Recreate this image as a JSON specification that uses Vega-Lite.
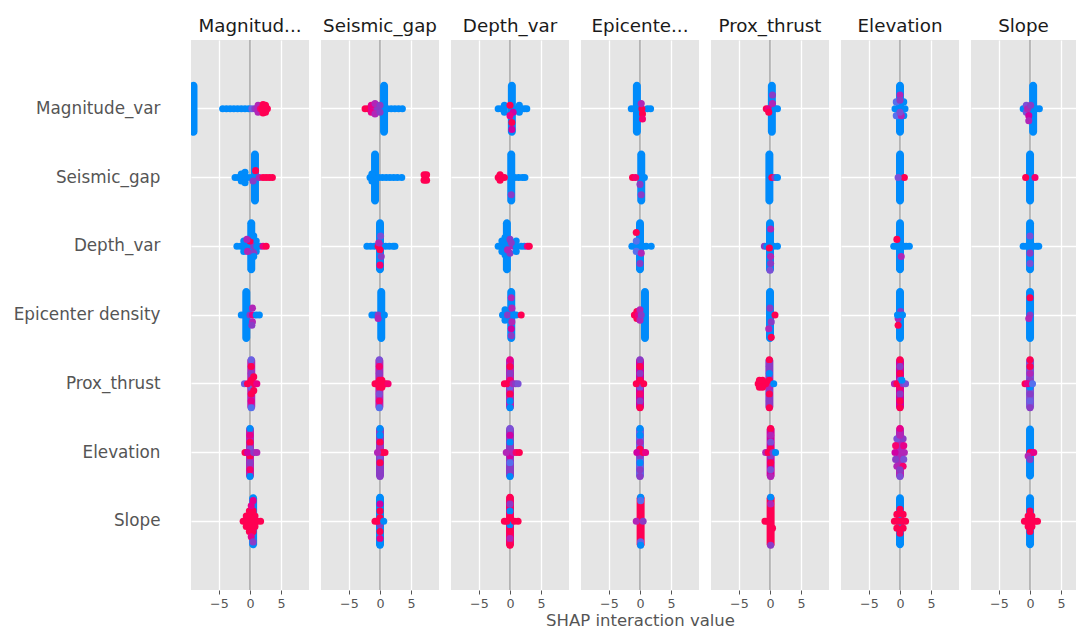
{
"$schema":"https://vega.github.io/schema/vega-lite/v6.json",
"autosize":{"type":"pad"},
"padding":{"left":13,"top":17,"right":0,"bottom":0},
"background":"white",
"spacing":12,
"bounds":"flush",
"datasets":{
"strips":[
{"c":"M","r":"M","x":-9.1,"v":0},{"c":"M","r":"S","x":0.8,"v":0},{"c":"M","r":"D","x":0.2,"v":0},{"c":"M","r":"E","x":-0.6,"v":0},{"c":"M","r":"P","x":0.2,"v":0.6},{"c":"M","r":"El","x":0,"v":0.6},{"c":"M","r":"Sl","x":0.5,"v":0},
{"c":"S","r":"M","x":0.65,"v":0},{"c":"S","r":"S","x":-0.8,"v":0},{"c":"S","r":"D","x":0,"v":0},{"c":"S","r":"E","x":0.2,"v":0},{"c":"S","r":"P","x":-0.1,"v":0.6},{"c":"S","r":"El","x":0,"v":0.5},{"c":"S","r":"Sl","x":0,"v":0},
{"c":"D","r":"M","x":0.3,"v":0},{"c":"D","r":"S","x":0.2,"v":0},{"c":"D","r":"D","x":-0.5,"v":0},{"c":"D","r":"E","x":0.2,"v":0},{"c":"D","r":"P","x":0,"v":0.6},{"c":"D","r":"El","x":0,"v":0.5},{"c":"D","r":"Sl","x":0,"v":0.9},
{"c":"E","r":"M","x":-0.5,"v":0},{"c":"E","r":"S","x":0.2,"v":0},{"c":"E","r":"D","x":0,"v":0},{"c":"E","r":"E","x":0.8,"v":0},{"c":"E","r":"P","x":0,"v":0.7},{"c":"E","r":"El","x":0,"v":0.3},{"c":"E","r":"Sl","x":0.1,"v":1},
{"c":"P","r":"M","x":0.3,"v":0},{"c":"P","r":"S","x":-0.1,"v":0},{"c":"P","r":"D","x":0,"v":0},{"c":"P","r":"E","x":0,"v":0},{"c":"P","r":"P","x":-0.1,"v":0.5},{"c":"P","r":"El","x":0.1,"v":0.7},{"c":"P","r":"Sl","x":0.1,"v":1},
{"c":"El","r":"M","x":0,"v":0},{"c":"El","r":"S","x":0,"v":0},{"c":"El","r":"D","x":0,"v":0},{"c":"El","r":"E","x":0,"v":0},{"c":"El","r":"P","x":0,"v":0.7},{"c":"El","r":"El","x":0,"v":0.6},{"c":"El","r":"Sl","x":0,"v":0},
{"c":"Sl","r":"M","x":0.5,"v":0},{"c":"Sl","r":"S","x":0,"v":0},{"c":"Sl","r":"D","x":0,"v":0},{"c":"Sl","r":"E","x":0,"v":0},{"c":"Sl","r":"P","x":0,"v":0.4},{"c":"Sl","r":"El","x":0,"v":0},{"c":"Sl","r":"Sl","x":0,"v":0}
],
"pts":[
{"c":"M","r":"M","x":-4.4,"o":0,"v":0},{"c":"M","r":"M","x":-3.8,"o":0,"v":0},{"c":"M","r":"M","x":-3.2,"o":0,"v":0},{"c":"M","r":"M","x":-2.6,"o":0,"v":0},{"c":"M","r":"M","x":-2.0,"o":0,"v":0},{"c":"M","r":"M","x":-1.4,"o":0,"v":0},{"c":"M","r":"M","x":-0.8,"o":0,"v":0},{"c":"M","r":"M","x":-0.2,"o":0,"v":0},
{"c":"M","r":"M","x":0.3,"o":0,"v":0.3},{"c":"M","r":"M","x":0.8,"o":0,"v":0.5},{"c":"M","r":"M","x":1.2,"o":0,"v":0.6},{"c":"M","r":"M","x":1.3,"o":1,"v":0.6},{"c":"M","r":"M","x":1.3,"o":-1,"v":0.6},
{"c":"M","r":"M","x":1.7,"o":0,"v":0.9},{"c":"M","r":"M","x":2.0,"o":0,"v":1},{"c":"M","r":"M","x":2.4,"o":0,"v":1},{"c":"M","r":"M","x":2.8,"o":0,"v":1},{"c":"M","r":"M","x":2.1,"o":1.2,"v":1},{"c":"M","r":"M","x":2.1,"o":-1.2,"v":1},{"c":"M","r":"M","x":2.5,"o":1,"v":1},{"c":"M","r":"M","x":2.5,"o":-1,"v":1},
{"c":"M","r":"S","x":-2.4,"o":0,"v":0},{"c":"M","r":"S","x":-1.9,"o":0,"v":0},{"c":"M","r":"S","x":-1.4,"o":0,"v":0},{"c":"M","r":"S","x":-0.9,"o":0,"v":0},{"c":"M","r":"S","x":-0.4,"o":0,"v":0},{"c":"M","r":"S","x":0.2,"o":0,"v":0},
{"c":"M","r":"S","x":-1.4,"o":1,"v":0},{"c":"M","r":"S","x":-1.4,"o":-1,"v":0},{"c":"M","r":"S","x":-0.8,"o":1.5,"v":0},{"c":"M","r":"S","x":-0.8,"o":-1.5,"v":0},{"c":"M","r":"S","x":0.5,"o":1,"v":0.5},{"c":"M","r":"S","x":0.9,"o":-2,"v":1},
{"c":"M","r":"S","x":1.5,"o":0,"v":0.6},{"c":"M","r":"S","x":2.1,"o":0,"v":1},{"c":"M","r":"S","x":2.6,"o":0,"v":1},{"c":"M","r":"S","x":3.1,"o":0,"v":1},{"c":"M","r":"S","x":3.6,"o":0,"v":1},
{"c":"M","r":"D","x":-2.1,"o":0,"v":0},{"c":"M","r":"D","x":-1.5,"o":0,"v":0},{"c":"M","r":"D","x":-0.9,"o":0,"v":0},{"c":"M","r":"D","x":-0.4,"o":0,"v":0},{"c":"M","r":"D","x":-1.0,"o":1.5,"v":0},{"c":"M","r":"D","x":-1.0,"o":-1.5,"v":0},
{"c":"M","r":"D","x":1.0,"o":1.5,"v":0},{"c":"M","r":"D","x":1.0,"o":-1.5,"v":0},{"c":"M","r":"D","x":0.6,"o":0,"v":0.5},{"c":"M","r":"D","x":1.1,"o":0,"v":0},{"c":"M","r":"D","x":1.6,"o":0,"v":0},{"c":"M","r":"D","x":2.1,"o":0,"v":0.8},{"c":"M","r":"D","x":2.6,"o":0,"v":1},
{"c":"M","r":"D","x":-0.4,"o":1.5,"v":0.6},{"c":"M","r":"D","x":0,"o":-1.5,"v":1},{"c":"M","r":"D","x":-0.5,"o":-2,"v":0.6},{"c":"M","r":"D","x":0.6,"o":2,"v":0.5},{"c":"M","r":"D","x":0.6,"o":3,"v":0},{"c":"M","r":"D","x":0.6,"o":-3,"v":0},
{"c":"M","r":"E","x":-1.4,"o":0,"v":0},{"c":"M","r":"E","x":-0.9,"o":0,"v":0},{"c":"M","r":"E","x":-0.3,"o":-1,"v":0},{"c":"M","r":"E","x":0,"o":0,"v":0.5},{"c":"M","r":"E","x":0.4,"o":0,"v":0.8},{"c":"M","r":"E","x":0.4,"o":2,"v":0.6},{"c":"M","r":"E","x":0.4,"o":-2,"v":0.6},{"c":"M","r":"E","x":0.3,"o":3,"v":0.5},{"c":"M","r":"E","x":1.0,"o":0,"v":0},{"c":"M","r":"E","x":1.5,"o":0,"v":0},
{"c":"M","r":"P","x":0.2,"o":-7,"v":0.3},{"c":"M","r":"P","x":0.2,"o":-5,"v":1},{"c":"M","r":"P","x":0.2,"o":-3,"v":0.5},{"c":"M","r":"P","x":0.2,"o":-1,"v":1},{"c":"M","r":"P","x":0.2,"o":1,"v":0.3},{"c":"M","r":"P","x":0.2,"o":3,"v":1},{"c":"M","r":"P","x":0.2,"o":5,"v":0.8},{"c":"M","r":"P","x":0.2,"o":7,"v":0.2},
{"c":"M","r":"P","x":-0.9,"o":0,"v":0.3},{"c":"M","r":"P","x":-0.4,"o":0,"v":1},{"c":"M","r":"P","x":0.7,"o":0,"v":1},{"c":"M","r":"P","x":1.1,"o":0,"v":0.8},{"c":"M","r":"P","x":0.6,"o":2,"v":1},{"c":"M","r":"P","x":0.6,"o":-2,"v":1},
{"c":"M","r":"El","x":0,"o":-7,"v":0},{"c":"M","r":"El","x":0,"o":-5,"v":0.8},{"c":"M","r":"El","x":0,"o":-3,"v":1},{"c":"M","r":"El","x":0,"o":-1,"v":0.4},{"c":"M","r":"El","x":0,"o":1,"v":1},{"c":"M","r":"El","x":0,"o":3,"v":0.5},{"c":"M","r":"El","x":0,"o":5,"v":0.9},{"c":"M","r":"El","x":0,"o":7,"v":0},
{"c":"M","r":"El","x":-0.8,"o":0,"v":1},{"c":"M","r":"El","x":-0.4,"o":0,"v":0.7},{"c":"M","r":"El","x":0.6,"o":0,"v":0.5},{"c":"M","r":"El","x":1.1,"o":0,"v":0.6},
{"c":"M","r":"Sl","x":-1.1,"o":0,"v":1},{"c":"M","r":"Sl","x":-0.6,"o":0,"v":1},{"c":"M","r":"Sl","x":0,"o":0,"v":1},{"c":"M","r":"Sl","x":0.6,"o":0,"v":1},{"c":"M","r":"Sl","x":1.2,"o":0,"v":1},{"c":"M","r":"Sl","x":1.7,"o":0,"v":1},
{"c":"M","r":"Sl","x":-0.6,"o":1.5,"v":1},{"c":"M","r":"Sl","x":-0.6,"o":-1.5,"v":1},{"c":"M","r":"Sl","x":0.1,"o":1.5,"v":1},{"c":"M","r":"Sl","x":0.1,"o":-1.5,"v":1},{"c":"M","r":"Sl","x":0.8,"o":1.5,"v":1},{"c":"M","r":"Sl","x":0.8,"o":-1.5,"v":1},
{"c":"M","r":"Sl","x":-0.1,"o":3,"v":1},{"c":"M","r":"Sl","x":-0.1,"o":-3,"v":1},{"c":"M","r":"Sl","x":0.5,"o":3,"v":1},{"c":"M","r":"Sl","x":0.5,"o":-3,"v":1},{"c":"M","r":"Sl","x":0.2,"o":4.5,"v":0.8},{"c":"M","r":"Sl","x":0.2,"o":-4.5,"v":0.8},{"c":"M","r":"Sl","x":0.5,"o":-6,"v":0.8},{"c":"M","r":"Sl","x":0.5,"o":6,"v":0.5},

{"c":"S","r":"M","x":-2.4,"o":0,"v":1},{"c":"S","r":"M","x":-1.9,"o":0,"v":1},{"c":"S","r":"M","x":-1.4,"o":0,"v":0.8},{"c":"S","r":"M","x":-0.9,"o":0,"v":0.6},{"c":"S","r":"M","x":-0.4,"o":0,"v":0.5},
{"c":"S","r":"M","x":-1.4,"o":1,"v":0.8},{"c":"S","r":"M","x":-1.4,"o":-1,"v":0.8},{"c":"S","r":"M","x":-0.8,"o":1.5,"v":0.6},{"c":"S","r":"M","x":-0.8,"o":-1.5,"v":0.6},{"c":"S","r":"M","x":0,"o":1,"v":0.5},{"c":"S","r":"M","x":0,"o":-1,"v":0.5},
{"c":"S","r":"M","x":1.2,"o":0,"v":0},{"c":"S","r":"M","x":1.8,"o":0,"v":0},{"c":"S","r":"M","x":2.4,"o":0,"v":0},{"c":"S","r":"M","x":3.0,"o":0,"v":0},{"c":"S","r":"M","x":3.6,"o":0,"v":0},
{"c":"S","r":"S","x":-1.6,"o":0,"v":0},{"c":"S","r":"S","x":-0.2,"o":0,"v":0},{"c":"S","r":"S","x":0.4,"o":0,"v":0},{"c":"S","r":"S","x":1.0,"o":0,"v":0},{"c":"S","r":"S","x":1.6,"o":0,"v":0},{"c":"S","r":"S","x":2.2,"o":0,"v":0},{"c":"S","r":"S","x":2.8,"o":0,"v":0},{"c":"S","r":"S","x":3.5,"o":0,"v":0},
{"c":"S","r":"S","x":-1.3,"o":1,"v":0},{"c":"S","r":"S","x":-1.3,"o":-1,"v":0},{"c":"S","r":"S","x":7.3,"o":0,"v":1},{"c":"S","r":"S","x":7.1,"o":0.8,"v":1},{"c":"S","r":"S","x":7.5,"o":-0.8,"v":1},{"c":"S","r":"S","x":7.1,"o":-0.8,"v":1},{"c":"S","r":"S","x":7.5,"o":0.8,"v":1},
{"c":"S","r":"D","x":-2.1,"o":0,"v":0},{"c":"S","r":"D","x":-1.5,"o":0,"v":0},{"c":"S","r":"D","x":-0.9,"o":0,"v":0},{"c":"S","r":"D","x":-0.3,"o":0,"v":1},{"c":"S","r":"D","x":0.3,"o":0,"v":0.6},{"c":"S","r":"D","x":0.9,"o":0,"v":0},{"c":"S","r":"D","x":1.5,"o":0,"v":0},{"c":"S","r":"D","x":2.1,"o":0,"v":0},{"c":"S","r":"D","x":2.4,"o":0,"v":0},
{"c":"S","r":"D","x":0,"o":1,"v":1},{"c":"S","r":"D","x":0,"o":5.5,"v":0.9},{"c":"S","r":"D","x":-0.2,"o":-1,"v":0.6},{"c":"S","r":"D","x":0.2,"o":3,"v":0.5},{"c":"S","r":"D","x":0.1,"o":-3,"v":0.4},
{"c":"S","r":"E","x":-1.3,"o":0,"v":0},{"c":"S","r":"E","x":-0.8,"o":0,"v":0},{"c":"S","r":"E","x":-0.3,"o":0,"v":0.5},{"c":"S","r":"E","x":-0.3,"o":1,"v":0.6},{"c":"S","r":"E","x":0.7,"o":0,"v":0},
{"c":"S","r":"P","x":-0.1,"o":-7,"v":0.4},{"c":"S","r":"P","x":-0.1,"o":-5,"v":0.9},{"c":"S","r":"P","x":-0.1,"o":-3,"v":0.5},{"c":"S","r":"P","x":-0.1,"o":-1,"v":1},{"c":"S","r":"P","x":-0.1,"o":1,"v":1},{"c":"S","r":"P","x":-0.1,"o":3,"v":0.4},{"c":"S","r":"P","x":-0.1,"o":5,"v":0.9},{"c":"S","r":"P","x":-0.1,"o":7,"v":0.2},
{"c":"S","r":"P","x":-0.8,"o":0,"v":1},{"c":"S","r":"P","x":-0.4,"o":0,"v":1},{"c":"S","r":"P","x":0.4,"o":0,"v":1},{"c":"S","r":"P","x":0.9,"o":0,"v":1},{"c":"S","r":"P","x":1.3,"o":0,"v":0.9},{"c":"S","r":"P","x":0.3,"o":1,"v":1},{"c":"S","r":"P","x":0.3,"o":-1,"v":1},
{"c":"S","r":"El","x":0,"o":-7,"v":0},{"c":"S","r":"El","x":0,"o":-5,"v":0},{"c":"S","r":"El","x":0,"o":-3,"v":1},{"c":"S","r":"El","x":0,"o":-1,"v":0.6},{"c":"S","r":"El","x":0,"o":1,"v":0.4},{"c":"S","r":"El","x":0,"o":3,"v":1},{"c":"S","r":"El","x":0,"o":5,"v":0.5},{"c":"S","r":"El","x":0,"o":7,"v":0.5},
{"c":"S","r":"El","x":0.8,"o":0,"v":1},{"c":"S","r":"El","x":0.4,"o":0,"v":1},{"c":"S","r":"El","x":-0.4,"o":0,"v":0.6},
{"c":"S","r":"Sl","x":0,"o":-7,"v":0},{"c":"S","r":"Sl","x":0,"o":-5,"v":0.7},{"c":"S","r":"Sl","x":0,"o":-3,"v":1},{"c":"S","r":"Sl","x":0,"o":-1,"v":1},{"c":"S","r":"Sl","x":0,"o":1,"v":0.5},{"c":"S","r":"Sl","x":0,"o":3,"v":1},{"c":"S","r":"Sl","x":0,"o":5,"v":0.8},{"c":"S","r":"Sl","x":0,"o":7,"v":0},
{"c":"S","r":"Sl","x":-0.8,"o":0,"v":1},{"c":"S","r":"Sl","x":-0.4,"o":0,"v":1},{"c":"S","r":"Sl","x":0.6,"o":0,"v":0},

{"c":"D","r":"M","x":-1.9,"o":0,"v":0},{"c":"D","r":"M","x":-1.4,"o":0,"v":0},{"c":"D","r":"M","x":-0.9,"o":0,"v":0},{"c":"D","r":"M","x":1.1,"o":0,"v":0},{"c":"D","r":"M","x":1.7,"o":0,"v":0},{"c":"D","r":"M","x":2.3,"o":0,"v":0},{"c":"D","r":"M","x":2.7,"o":0,"v":0},
{"c":"D","r":"M","x":-0.9,"o":1,"v":0},{"c":"D","r":"M","x":-0.9,"o":-1,"v":0},{"c":"D","r":"M","x":1.5,"o":1,"v":0},{"c":"D","r":"M","x":1.5,"o":-1,"v":0},{"c":"D","r":"M","x":0,"o":-1,"v":1},{"c":"D","r":"M","x":0.5,"o":1,"v":0.7},{"c":"D","r":"M","x":0,"o":2,"v":0.8},{"c":"D","r":"M","x":0.3,"o":4,"v":1},{"c":"D","r":"M","x":0.3,"o":6,"v":0.7},
{"c":"D","r":"S","x":-1.9,"o":0,"v":1},{"c":"D","r":"S","x":-1.4,"o":0,"v":1},{"c":"D","r":"S","x":-0.9,"o":0,"v":1},{"c":"D","r":"S","x":-1.6,"o":0.8,"v":1},{"c":"D","r":"S","x":-1.6,"o":-0.8,"v":1},
{"c":"D","r":"S","x":0.8,"o":0,"v":0},{"c":"D","r":"S","x":1.4,"o":0,"v":0},{"c":"D","r":"S","x":2.0,"o":0,"v":0},{"c":"D","r":"S","x":2.4,"o":0,"v":0},{"c":"D","r":"S","x":0.2,"o":5,"v":0.5},
{"c":"D","r":"D","x":-1.9,"o":0,"v":0},{"c":"D","r":"D","x":-1.3,"o":0,"v":0},{"c":"D","r":"D","x":-1.3,"o":1.5,"v":0},{"c":"D","r":"D","x":-1.3,"o":-1.5,"v":0},{"c":"D","r":"D","x":-0.8,"o":2.5,"v":0},{"c":"D","r":"D","x":-0.8,"o":-2.5,"v":0},
{"c":"D","r":"D","x":0,"o":2,"v":0.5},{"c":"D","r":"D","x":0,"o":-2,"v":0.5},{"c":"D","r":"D","x":0.5,"o":0,"v":0.6},{"c":"D","r":"D","x":1.0,"o":0,"v":0},{"c":"D","r":"D","x":1.0,"o":1.5,"v":0},{"c":"D","r":"D","x":1.0,"o":-1.5,"v":0},
{"c":"D","r":"D","x":1.8,"o":0,"v":0},{"c":"D","r":"D","x":2.3,"o":0,"v":0},{"c":"D","r":"D","x":2.8,"o":0,"v":0.8},{"c":"D","r":"D","x":3.1,"o":0,"v":1},{"c":"D","r":"D","x":-0.4,"o":1,"v":0.6},{"c":"D","r":"D","x":0.2,"o":-1,"v":0.5},
{"c":"D","r":"E","x":-1.2,"o":0,"v":0},{"c":"D","r":"E","x":-0.8,"o":1.5,"v":0},{"c":"D","r":"E","x":-0.8,"o":-1.5,"v":0},{"c":"D","r":"E","x":-0.4,"o":0,"v":0.5},{"c":"D","r":"E","x":0.3,"o":2,"v":0.6},{"c":"D","r":"E","x":0.3,"o":-2,"v":0.6},
{"c":"D","r":"E","x":0.6,"o":0,"v":0},{"c":"D","r":"E","x":1.0,"o":0,"v":0},{"c":"D","r":"E","x":1.8,"o":0,"v":1},{"c":"D","r":"E","x":0.2,"o":-5,"v":0.6},{"c":"D","r":"E","x":0.2,"o":4,"v":0.7},{"c":"D","r":"E","x":0.2,"o":6,"v":0.5},
{"c":"D","r":"P","x":0,"o":-7,"v":0.8},{"c":"D","r":"P","x":0,"o":-5,"v":1},{"c":"D","r":"P","x":0,"o":-3,"v":0.5},{"c":"D","r":"P","x":0,"o":-1,"v":0.9},{"c":"D","r":"P","x":0,"o":1,"v":0.3},{"c":"D","r":"P","x":0,"o":3,"v":1},{"c":"D","r":"P","x":0,"o":5,"v":0},{"c":"D","r":"P","x":0,"o":7,"v":0},
{"c":"D","r":"P","x":-0.9,"o":0,"v":1},{"c":"D","r":"P","x":-0.5,"o":0,"v":1},{"c":"D","r":"P","x":0.5,"o":0,"v":0.6},{"c":"D","r":"P","x":0.9,"o":0,"v":0.5},{"c":"D","r":"P","x":1.3,"o":0,"v":0.4},
{"c":"D","r":"El","x":0,"o":-7,"v":0.4},{"c":"D","r":"El","x":0,"o":-5,"v":0.7},{"c":"D","r":"El","x":0,"o":-3,"v":0},{"c":"D","r":"El","x":0,"o":-1,"v":0.5},{"c":"D","r":"El","x":0,"o":1,"v":0.7},{"c":"D","r":"El","x":0,"o":3,"v":0.2},{"c":"D","r":"El","x":0,"o":5,"v":0.5},{"c":"D","r":"El","x":0,"o":7,"v":0},
{"c":"D","r":"El","x":-0.6,"o":0,"v":0.6},{"c":"D","r":"El","x":0.5,"o":0,"v":0.6},{"c":"D","r":"El","x":1.0,"o":0,"v":0.9},{"c":"D","r":"El","x":1.5,"o":0,"v":1},
{"c":"D","r":"Sl","x":0,"o":-7,"v":1},{"c":"D","r":"Sl","x":0,"o":-5,"v":0.5},{"c":"D","r":"Sl","x":0,"o":-3,"v":0},{"c":"D","r":"Sl","x":0,"o":-1,"v":1},{"c":"D","r":"Sl","x":0,"o":1,"v":0},{"c":"D","r":"Sl","x":0,"o":3,"v":1},{"c":"D","r":"Sl","x":0,"o":5,"v":0.6},{"c":"D","r":"Sl","x":0,"o":7,"v":1},
{"c":"D","r":"Sl","x":-0.9,"o":0,"v":1},{"c":"D","r":"Sl","x":-0.5,"o":0,"v":1},{"c":"D","r":"Sl","x":0.7,"o":0,"v":1},{"c":"D","r":"Sl","x":1.3,"o":0,"v":1},

{"c":"E","r":"M","x":-1.4,"o":0,"v":0},{"c":"E","r":"M","x":-0.9,"o":0,"v":0},{"c":"E","r":"M","x":1.2,"o":0,"v":0},{"c":"E","r":"M","x":1.7,"o":0,"v":0},{"c":"E","r":"M","x":0.3,"o":0,"v":1},{"c":"E","r":"M","x":0.4,"o":1.5,"v":1},{"c":"E","r":"M","x":0.4,"o":3,"v":0.9},{"c":"E","r":"M","x":0.2,"o":-1.5,"v":0.6},
{"c":"E","r":"S","x":-1.2,"o":0,"v":1},{"c":"E","r":"S","x":-0.7,"o":0,"v":0.9},{"c":"E","r":"S","x":0,"o":2,"v":0.5},{"c":"E","r":"S","x":0.2,"o":5,"v":0.5},{"c":"E","r":"S","x":0.7,"o":0,"v":0},
{"c":"E","r":"D","x":-1.3,"o":0,"v":0},{"c":"E","r":"D","x":-0.8,"o":0,"v":0},{"c":"E","r":"D","x":-0.6,"o":1.5,"v":0.2},{"c":"E","r":"D","x":-0.6,"o":-1.5,"v":0.2},{"c":"E","r":"D","x":0.5,"o":0,"v":0},{"c":"E","r":"D","x":1.0,"o":0,"v":0},{"c":"E","r":"D","x":1.8,"o":0,"v":0},
{"c":"E","r":"D","x":-0.6,"o":-4,"v":1},{"c":"E","r":"D","x":0.2,"o":2,"v":0.6},{"c":"E","r":"D","x":0,"o":5,"v":0.5},
{"c":"E","r":"E","x":-0.9,"o":0,"v":1},{"c":"E","r":"E","x":-0.5,"o":1,"v":1},{"c":"E","r":"E","x":-0.5,"o":-1,"v":1},{"c":"E","r":"E","x":-0.3,"o":0,"v":0.8},{"c":"E","r":"E","x":0,"o":1.5,"v":0.6},{"c":"E","r":"E","x":0,"o":-1.5,"v":0.6},{"c":"E","r":"E","x":0.2,"o":0,"v":0.5},
{"c":"E","r":"P","x":0,"o":-7,"v":0.5},{"c":"E","r":"P","x":0,"o":-5,"v":1},{"c":"E","r":"P","x":0,"o":-3,"v":0.5},{"c":"E","r":"P","x":0,"o":-1,"v":1},{"c":"E","r":"P","x":0,"o":1,"v":0.4},{"c":"E","r":"P","x":0,"o":3,"v":0.9},{"c":"E","r":"P","x":0,"o":5,"v":0.5},{"c":"E","r":"P","x":0,"o":7,"v":1},
{"c":"E","r":"P","x":-0.6,"o":0,"v":1},{"c":"E","r":"P","x":0.6,"o":0,"v":1},
{"c":"E","r":"El","x":0,"o":-7,"v":0},{"c":"E","r":"El","x":0,"o":-5,"v":0},{"c":"E","r":"El","x":0,"o":-3,"v":0.6},{"c":"E","r":"El","x":0,"o":-1,"v":1},{"c":"E","r":"El","x":0,"o":1,"v":0.5},{"c":"E","r":"El","x":0,"o":3,"v":0},{"c":"E","r":"El","x":0,"o":5,"v":0.5},{"c":"E","r":"El","x":0,"o":7,"v":0.5},
{"c":"E","r":"El","x":-0.5,"o":0,"v":0.7},{"c":"E","r":"El","x":0.5,"o":0,"v":1},{"c":"E","r":"El","x":0.9,"o":0,"v":0.8},
{"c":"E","r":"Sl","x":0.1,"o":-7,"v":0},{"c":"E","r":"Sl","x":0.1,"o":-6,"v":0.2},{"c":"E","r":"Sl","x":0.1,"o":6,"v":0.3},{"c":"E","r":"Sl","x":0.1,"o":7,"v":0},{"c":"E","r":"Sl","x":-0.6,"o":0,"v":0.6},{"c":"E","r":"Sl","x":0.5,"o":0,"v":0.5},

{"c":"P","r":"M","x":-0.6,"o":0,"v":1},{"c":"P","r":"M","x":-0.2,"o":0,"v":0.8},{"c":"P","r":"M","x":0.8,"o":0,"v":0},{"c":"P","r":"M","x":1.2,"o":0,"v":0},{"c":"P","r":"M","x":-0.2,"o":1,"v":1},{"c":"P","r":"M","x":0.4,"o":-4,"v":0.5},{"c":"P","r":"M","x":0.4,"o":-1.5,"v":0.6},
{"c":"P","r":"S","x":0.3,"o":0,"v":1},{"c":"P","r":"S","x":0.8,"o":0,"v":0.5},{"c":"P","r":"S","x":1.2,"o":0,"v":0},
{"c":"P","r":"D","x":-0.9,"o":0,"v":0.5},{"c":"P","r":"D","x":-0.5,"o":0,"v":0},{"c":"P","r":"D","x":0.6,"o":0,"v":0},{"c":"P","r":"D","x":1.2,"o":0,"v":0},{"c":"P","r":"D","x":-0.1,"o":0.5,"v":1},{"c":"P","r":"D","x":0.1,"o":-5,"v":0.6},{"c":"P","r":"D","x":0.1,"o":3,"v":0.6},{"c":"P","r":"D","x":0.1,"o":5,"v":0.5},{"c":"P","r":"D","x":0,"o":7,"v":0.4},
{"c":"P","r":"E","x":0.8,"o":0,"v":1},{"c":"P","r":"E","x":0.2,"o":6.5,"v":1},{"c":"P","r":"E","x":0,"o":-2,"v":0.5},{"c":"P","r":"E","x":0.2,"o":2,"v":0.5},{"c":"P","r":"E","x":-0.2,"o":4,"v":0.6},
{"c":"P","r":"P","x":-0.1,"o":-7,"v":1},{"c":"P","r":"P","x":-0.1,"o":-5,"v":0.5},{"c":"P","r":"P","x":-0.1,"o":-3,"v":0},{"c":"P","r":"P","x":-0.1,"o":-1,"v":1},{"c":"P","r":"P","x":-0.1,"o":1,"v":0.6},{"c":"P","r":"P","x":-0.1,"o":3,"v":1},{"c":"P","r":"P","x":-0.1,"o":5,"v":0.5},{"c":"P","r":"P","x":-0.1,"o":7,"v":1},
{"c":"P","r":"P","x":-1.9,"o":0,"v":1},{"c":"P","r":"P","x":-1.5,"o":0,"v":1},{"c":"P","r":"P","x":-1.1,"o":0,"v":1},{"c":"P","r":"P","x":-0.7,"o":0,"v":1},{"c":"P","r":"P","x":-1.7,"o":1,"v":1},{"c":"P","r":"P","x":-1.7,"o":-1,"v":1},{"c":"P","r":"P","x":-1.2,"o":1,"v":1},{"c":"P","r":"P","x":-1.2,"o":-1,"v":1},{"c":"P","r":"P","x":0.6,"o":0,"v":0},
{"c":"P","r":"El","x":0.1,"o":-7,"v":1},{"c":"P","r":"El","x":0.1,"o":-5,"v":0.6},{"c":"P","r":"El","x":0.1,"o":-3,"v":0.4},{"c":"P","r":"El","x":0.1,"o":-1,"v":1},{"c":"P","r":"El","x":0.1,"o":1,"v":0.5},{"c":"P","r":"El","x":0.1,"o":3,"v":1},{"c":"P","r":"El","x":0.1,"o":5,"v":0.4},{"c":"P","r":"El","x":0.1,"o":7,"v":0.6},
{"c":"P","r":"El","x":-0.7,"o":0,"v":0.6},{"c":"P","r":"El","x":-0.3,"o":0,"v":1},{"c":"P","r":"El","x":0.5,"o":0,"v":0.5},{"c":"P","r":"El","x":0.9,"o":0,"v":0},
{"c":"P","r":"Sl","x":0.1,"o":-7,"v":0},{"c":"P","r":"Sl","x":0.1,"o":-5,"v":0.6},{"c":"P","r":"Sl","x":0.1,"o":7,"v":0.5},{"c":"P","r":"Sl","x":-0.8,"o":0,"v":1},{"c":"P","r":"Sl","x":-0.4,"o":0,"v":1},{"c":"P","r":"Sl","x":0.4,"o":2,"v":1},

{"c":"El","r":"M","x":-0.8,"o":0,"v":0},{"c":"El","r":"M","x":-0.6,"o":2,"v":0.2},{"c":"El","r":"M","x":-0.6,"o":-2,"v":0.2},{"c":"El","r":"M","x":0.6,"o":2,"v":0},{"c":"El","r":"M","x":0.6,"o":-2,"v":0},{"c":"El","r":"M","x":0.8,"o":0,"v":0},
{"c":"El","r":"M","x":0,"o":-4,"v":0.6},{"c":"El","r":"M","x":0,"o":-2.5,"v":0.5},{"c":"El","r":"M","x":0.2,"o":2,"v":0.6},{"c":"El","r":"M","x":0,"o":1,"v":0.4},
{"c":"El","r":"S","x":0.7,"o":0,"v":1},{"c":"El","r":"S","x":-0.3,"o":0,"v":0.4},
{"c":"El","r":"D","x":-1.0,"o":0,"v":0},{"c":"El","r":"D","x":-0.6,"o":0,"v":0},{"c":"El","r":"D","x":0.6,"o":0,"v":0},{"c":"El","r":"D","x":1.0,"o":0,"v":0},{"c":"El","r":"D","x":1.5,"o":0,"v":0},{"c":"El","r":"D","x":-0.5,"o":-2,"v":1},{"c":"El","r":"D","x":0.2,"o":3,"v":0.6},
{"c":"El","r":"E","x":-0.3,"o":1,"v":0.6},{"c":"El","r":"E","x":-0.3,"o":3,"v":1},{"c":"El","r":"E","x":0.1,"o":-1,"v":0.5},{"c":"El","r":"E","x":-0.4,"o":0,"v":0},{"c":"El","r":"E","x":0.4,"o":0,"v":0},
{"c":"El","r":"P","x":0,"o":-7,"v":1},{"c":"El","r":"P","x":0,"o":-5,"v":0.5},{"c":"El","r":"P","x":0,"o":-3,"v":1},{"c":"El","r":"P","x":0,"o":-1,"v":0.4},{"c":"El","r":"P","x":0,"o":1,"v":0.9},{"c":"El","r":"P","x":0,"o":3,"v":0.5},{"c":"El","r":"P","x":0,"o":5,"v":1},{"c":"El","r":"P","x":0,"o":7,"v":1},
{"c":"El","r":"P","x":-0.9,"o":0,"v":0.6},{"c":"El","r":"P","x":-0.5,"o":0,"v":1},{"c":"El","r":"P","x":0.5,"o":0,"v":0.5},{"c":"El","r":"P","x":0.9,"o":0,"v":0.4},{"c":"El","r":"P","x":0.3,"o":-1,"v":0},
{"c":"El","r":"El","x":-0.8,"o":0,"v":0.7},{"c":"El","r":"El","x":-0.7,"o":2,"v":0.5},{"c":"El","r":"El","x":-0.7,"o":-2,"v":0.9},{"c":"El","r":"El","x":-0.5,"o":4,"v":0.6},{"c":"El","r":"El","x":-0.5,"o":-4,"v":0.4},
{"c":"El","r":"El","x":0.7,"o":0,"v":0.6},{"c":"El","r":"El","x":0.6,"o":2,"v":0.4},{"c":"El","r":"El","x":0.6,"o":-2,"v":0.8},{"c":"El","r":"El","x":0.5,"o":4,"v":0.9},{"c":"El","r":"El","x":0.5,"o":-4,"v":0.5},
{"c":"El","r":"El","x":0,"o":-7,"v":0.8},{"c":"El","r":"El","x":0,"o":-5,"v":0.6},{"c":"El","r":"El","x":0,"o":5,"v":0.5},{"c":"El","r":"El","x":0,"o":7,"v":0.4},
{"c":"El","r":"Sl","x":-0.9,"o":0,"v":1},{"c":"El","r":"Sl","x":-0.4,"o":0,"v":1},{"c":"El","r":"Sl","x":0.1,"o":0,"v":1},{"c":"El","r":"Sl","x":0.5,"o":0,"v":1},{"c":"El","r":"Sl","x":0.9,"o":0,"v":1},
{"c":"El","r":"Sl","x":-0.5,"o":2,"v":1},{"c":"El","r":"Sl","x":-0.5,"o":-2,"v":1},{"c":"El","r":"Sl","x":0.5,"o":2,"v":1},{"c":"El","r":"Sl","x":0.5,"o":-2,"v":1},{"c":"El","r":"Sl","x":0,"o":3.5,"v":1},{"c":"El","r":"Sl","x":0,"o":-3.5,"v":1},

{"c":"Sl","r":"M","x":-1.1,"o":0,"v":0},{"c":"Sl","r":"M","x":-0.6,"o":1,"v":0.4},{"c":"Sl","r":"M","x":-0.6,"o":-1,"v":0.4},{"c":"Sl","r":"M","x":-0.4,"o":0,"v":0.6},{"c":"Sl","r":"M","x":1.0,"o":0,"v":0},{"c":"Sl","r":"M","x":1.5,"o":0,"v":0},
{"c":"Sl","r":"M","x":-0.2,"o":2,"v":0.7},{"c":"Sl","r":"M","x":-0.2,"o":3.5,"v":0.6},{"c":"Sl","r":"M","x":0.1,"o":-1,"v":0.5},
{"c":"Sl","r":"S","x":-0.7,"o":0,"v":1},{"c":"Sl","r":"S","x":0.8,"o":0,"v":0.9},
{"c":"Sl","r":"D","x":-1.1,"o":0,"v":0},{"c":"Sl","r":"D","x":-0.6,"o":0,"v":0},{"c":"Sl","r":"D","x":0.6,"o":0,"v":0},{"c":"Sl","r":"D","x":1.1,"o":0,"v":0},{"c":"Sl","r":"D","x":1.4,"o":0,"v":0},{"c":"Sl","r":"D","x":0,"o":2,"v":0.5},{"c":"Sl","r":"D","x":0,"o":-3,"v":0.4},{"c":"Sl","r":"D","x":0,"o":5,"v":0.4},
{"c":"Sl","r":"E","x":0,"o":-5,"v":1},{"c":"Sl","r":"E","x":0,"o":0,"v":0.5},{"c":"Sl","r":"E","x":-0.2,"o":1,"v":0.6},
{"c":"Sl","r":"P","x":0,"o":-7,"v":1},{"c":"Sl","r":"P","x":0,"o":-5,"v":1},{"c":"Sl","r":"P","x":0,"o":-3,"v":0.6},{"c":"Sl","r":"P","x":0,"o":-1,"v":0.5},{"c":"Sl","r":"P","x":0,"o":1,"v":0},{"c":"Sl","r":"P","x":0,"o":3,"v":0.5},{"c":"Sl","r":"P","x":0,"o":5,"v":0.3},{"c":"Sl","r":"P","x":0,"o":7,"v":0.5},
{"c":"Sl","r":"P","x":-0.8,"o":0,"v":1},{"c":"Sl","r":"P","x":-0.4,"o":0,"v":0.8},{"c":"Sl","r":"P","x":0.4,"o":0,"v":0.2},
{"c":"Sl","r":"El","x":0,"o":0,"v":1},{"c":"Sl","r":"El","x":0.3,"o":0,"v":1},{"c":"Sl","r":"El","x":-0.3,"o":1,"v":0.6},{"c":"Sl","r":"El","x":0.6,"o":0,"v":0.8},{"c":"Sl","r":"El","x":0,"o":2,"v":0.5},
{"c":"Sl","r":"Sl","x":-0.9,"o":0,"v":1},{"c":"Sl","r":"Sl","x":-0.5,"o":0,"v":1},{"c":"Sl","r":"Sl","x":0,"o":0,"v":1},{"c":"Sl","r":"Sl","x":0.4,"o":0,"v":1},{"c":"Sl","r":"Sl","x":0.8,"o":0,"v":1},{"c":"Sl","r":"Sl","x":1.2,"o":0,"v":1},
{"c":"Sl","r":"Sl","x":-0.3,"o":1.5,"v":1},{"c":"Sl","r":"Sl","x":-0.3,"o":-1.5,"v":1},{"c":"Sl","r":"Sl","x":0.3,"o":1.5,"v":1},{"c":"Sl","r":"Sl","x":0.3,"o":-1.5,"v":1},{"c":"Sl","r":"Sl","x":0,"o":3,"v":1},{"c":"Sl","r":"Sl","x":0,"o":-3,"v":1}
]
},
"hconcat":[
{"width":118,"height":550,"title":"Magnitud...","layer":[
{"data":{"values":[{}]},"mark":{"type":"rule","color":"#999999","strokeWidth":1.3},"encoding":{"x":{"datum":0,"type":"quantitative","scale":{"domain":[-9.5,9.5]},"axis":{"values":[-5,0,5],"title":null}}}},
{"data":{"name":"strips"},"transform":[{"filter":"datum.c=='M'"}],"mark":{"type":"tick","thickness":8,"size":54,"cornerRadius":4,"clip":true,"opacity":1},"encoding":{"x":{"field":"x","type":"quantitative","scale":{"domain":[-9.5,9.5]},"axis":{"values":[-5,0,5],"title":null}},"y":{"field":"r","type":"nominal","scale":{"domain":["M","S","D","E","P","El","Sl"],"paddingInner":0,"paddingOuter":0.5},"axis":{"title":null,"bandPosition":0.5,"labelExpr":"datum.value=='M'?'Magnitude_var':datum.value=='S'?'Seismic_gap':datum.value=='D'?'Depth_var':datum.value=='E'?'Epicenter density':datum.value=='P'?'Prox_thrust':datum.value=='El'?'Elevation':'Slope'"}},"color":{"field":"v","type":"quantitative","scale":{"domain":[0,0.5,1],"range":["#008bfb","#8a3cc6","#ff0052"]},"legend":null}}},
{"data":{"name":"pts"},"transform":[{"filter":"datum.c=='M'"}],"mark":{"type":"circle","size":50,"opacity":1,"clip":true},"encoding":{"x":{"field":"x","type":"quantitative","scale":{"domain":[-9.5,9.5]},"axis":{"values":[-5,0,5],"title":null}},"y":{"field":"r","type":"nominal","scale":{"domain":["M","S","D","E","P","El","Sl"],"paddingInner":0,"paddingOuter":0.5}},"yOffset":{"field":"o","type":"quantitative","scale":{"domain":[-10,10]}},"color":{"field":"v","type":"quantitative","scale":{"domain":[0,0.5,1],"range":["#008bfb","#8a3cc6","#ff0052"]},"legend":null}}}
]},
{"width":118,"height":550,"title":"Seismic_gap","layer":[
{"data":{"values":[{}]},"mark":{"type":"rule","color":"#999999","strokeWidth":1.3},"encoding":{"x":{"datum":0,"type":"quantitative","scale":{"domain":[-9.5,9.5]},"axis":{"values":[-5,0,5],"title":null}}}},
{"data":{"name":"strips"},"transform":[{"filter":"datum.c=='S'"}],"mark":{"type":"tick","thickness":8,"size":54,"cornerRadius":4,"clip":true,"opacity":1},"encoding":{"x":{"field":"x","type":"quantitative","scale":{"domain":[-9.5,9.5]},"axis":{"values":[-5,0,5],"title":null}},"y":{"field":"r","type":"nominal","scale":{"domain":["M","S","D","E","P","El","Sl"],"paddingInner":0,"paddingOuter":0.5},"axis":{"title":null,"bandPosition":0.5,"labels":false}},"color":{"field":"v","type":"quantitative","scale":{"domain":[0,0.5,1],"range":["#008bfb","#8a3cc6","#ff0052"]},"legend":null}}},
{"data":{"name":"pts"},"transform":[{"filter":"datum.c=='S'"}],"mark":{"type":"circle","size":50,"opacity":1,"clip":true},"encoding":{"x":{"field":"x","type":"quantitative","scale":{"domain":[-9.5,9.5]},"axis":{"values":[-5,0,5],"title":null}},"y":{"field":"r","type":"nominal","scale":{"domain":["M","S","D","E","P","El","Sl"],"paddingInner":0,"paddingOuter":0.5}},"yOffset":{"field":"o","type":"quantitative","scale":{"domain":[-10,10]}},"color":{"field":"v","type":"quantitative","scale":{"domain":[0,0.5,1],"range":["#008bfb","#8a3cc6","#ff0052"]},"legend":null}}}
]},
{"width":118,"height":550,"title":"Depth_var","layer":[
{"data":{"values":[{}]},"mark":{"type":"rule","color":"#999999","strokeWidth":1.3},"encoding":{"x":{"datum":0,"type":"quantitative","scale":{"domain":[-9.5,9.5]},"axis":{"values":[-5,0,5],"title":null}}}},
{"data":{"name":"strips"},"transform":[{"filter":"datum.c=='D'"}],"mark":{"type":"tick","thickness":8,"size":54,"cornerRadius":4,"clip":true,"opacity":1},"encoding":{"x":{"field":"x","type":"quantitative","scale":{"domain":[-9.5,9.5]},"axis":{"values":[-5,0,5],"title":null}},"y":{"field":"r","type":"nominal","scale":{"domain":["M","S","D","E","P","El","Sl"],"paddingInner":0,"paddingOuter":0.5},"axis":{"title":null,"bandPosition":0.5,"labels":false}},"color":{"field":"v","type":"quantitative","scale":{"domain":[0,0.5,1],"range":["#008bfb","#8a3cc6","#ff0052"]},"legend":null}}},
{"data":{"name":"pts"},"transform":[{"filter":"datum.c=='D'"}],"mark":{"type":"circle","size":50,"opacity":1,"clip":true},"encoding":{"x":{"field":"x","type":"quantitative","scale":{"domain":[-9.5,9.5]},"axis":{"values":[-5,0,5],"title":null}},"y":{"field":"r","type":"nominal","scale":{"domain":["M","S","D","E","P","El","Sl"],"paddingInner":0,"paddingOuter":0.5}},"yOffset":{"field":"o","type":"quantitative","scale":{"domain":[-10,10]}},"color":{"field":"v","type":"quantitative","scale":{"domain":[0,0.5,1],"range":["#008bfb","#8a3cc6","#ff0052"]},"legend":null}}}
]},
{"width":118,"height":550,"title":"Epicente...","layer":[
{"data":{"values":[{}]},"mark":{"type":"rule","color":"#999999","strokeWidth":1.3},"encoding":{"x":{"datum":0,"type":"quantitative","scale":{"domain":[-9.5,9.5]},"axis":{"values":[-5,0,5],"title":"SHAP interaction value"}}}},
{"data":{"name":"strips"},"transform":[{"filter":"datum.c=='E'"}],"mark":{"type":"tick","thickness":8,"size":54,"cornerRadius":4,"clip":true,"opacity":1},"encoding":{"x":{"field":"x","type":"quantitative","scale":{"domain":[-9.5,9.5]},"axis":{"values":[-5,0,5],"title":"SHAP interaction value"}},"y":{"field":"r","type":"nominal","scale":{"domain":["M","S","D","E","P","El","Sl"],"paddingInner":0,"paddingOuter":0.5},"axis":{"title":null,"bandPosition":0.5,"labels":false}},"color":{"field":"v","type":"quantitative","scale":{"domain":[0,0.5,1],"range":["#008bfb","#8a3cc6","#ff0052"]},"legend":null}}},
{"data":{"name":"pts"},"transform":[{"filter":"datum.c=='E'"}],"mark":{"type":"circle","size":50,"opacity":1,"clip":true},"encoding":{"x":{"field":"x","type":"quantitative","scale":{"domain":[-9.5,9.5]},"axis":{"values":[-5,0,5],"title":"SHAP interaction value"}},"y":{"field":"r","type":"nominal","scale":{"domain":["M","S","D","E","P","El","Sl"],"paddingInner":0,"paddingOuter":0.5}},"yOffset":{"field":"o","type":"quantitative","scale":{"domain":[-10,10]}},"color":{"field":"v","type":"quantitative","scale":{"domain":[0,0.5,1],"range":["#008bfb","#8a3cc6","#ff0052"]},"legend":null}}}
]},
{"width":118,"height":550,"title":"Prox_thrust","layer":[
{"data":{"values":[{}]},"mark":{"type":"rule","color":"#999999","strokeWidth":1.3},"encoding":{"x":{"datum":0,"type":"quantitative","scale":{"domain":[-9.5,9.5]},"axis":{"values":[-5,0,5],"title":null}}}},
{"data":{"name":"strips"},"transform":[{"filter":"datum.c=='P'"}],"mark":{"type":"tick","thickness":8,"size":54,"cornerRadius":4,"clip":true,"opacity":1},"encoding":{"x":{"field":"x","type":"quantitative","scale":{"domain":[-9.5,9.5]},"axis":{"values":[-5,0,5],"title":null}},"y":{"field":"r","type":"nominal","scale":{"domain":["M","S","D","E","P","El","Sl"],"paddingInner":0,"paddingOuter":0.5},"axis":{"title":null,"bandPosition":0.5,"labels":false}},"color":{"field":"v","type":"quantitative","scale":{"domain":[0,0.5,1],"range":["#008bfb","#8a3cc6","#ff0052"]},"legend":null}}},
{"data":{"name":"pts"},"transform":[{"filter":"datum.c=='P'"}],"mark":{"type":"circle","size":50,"opacity":1,"clip":true},"encoding":{"x":{"field":"x","type":"quantitative","scale":{"domain":[-9.5,9.5]},"axis":{"values":[-5,0,5],"title":null}},"y":{"field":"r","type":"nominal","scale":{"domain":["M","S","D","E","P","El","Sl"],"paddingInner":0,"paddingOuter":0.5}},"yOffset":{"field":"o","type":"quantitative","scale":{"domain":[-10,10]}},"color":{"field":"v","type":"quantitative","scale":{"domain":[0,0.5,1],"range":["#008bfb","#8a3cc6","#ff0052"]},"legend":null}}}
]},
{"width":118,"height":550,"title":"Elevation","layer":[
{"data":{"values":[{}]},"mark":{"type":"rule","color":"#999999","strokeWidth":1.3},"encoding":{"x":{"datum":0,"type":"quantitative","scale":{"domain":[-9.5,9.5]},"axis":{"values":[-5,0,5],"title":null}}}},
{"data":{"name":"strips"},"transform":[{"filter":"datum.c=='El'"}],"mark":{"type":"tick","thickness":8,"size":54,"cornerRadius":4,"clip":true,"opacity":1},"encoding":{"x":{"field":"x","type":"quantitative","scale":{"domain":[-9.5,9.5]},"axis":{"values":[-5,0,5],"title":null}},"y":{"field":"r","type":"nominal","scale":{"domain":["M","S","D","E","P","El","Sl"],"paddingInner":0,"paddingOuter":0.5},"axis":{"title":null,"bandPosition":0.5,"labels":false}},"color":{"field":"v","type":"quantitative","scale":{"domain":[0,0.5,1],"range":["#008bfb","#8a3cc6","#ff0052"]},"legend":null}}},
{"data":{"name":"pts"},"transform":[{"filter":"datum.c=='El'"}],"mark":{"type":"circle","size":50,"opacity":1,"clip":true},"encoding":{"x":{"field":"x","type":"quantitative","scale":{"domain":[-9.5,9.5]},"axis":{"values":[-5,0,5],"title":null}},"y":{"field":"r","type":"nominal","scale":{"domain":["M","S","D","E","P","El","Sl"],"paddingInner":0,"paddingOuter":0.5}},"yOffset":{"field":"o","type":"quantitative","scale":{"domain":[-10,10]}},"color":{"field":"v","type":"quantitative","scale":{"domain":[0,0.5,1],"range":["#008bfb","#8a3cc6","#ff0052"]},"legend":null}}}
]},
{"width":105,"height":550,"title":"Slope","layer":[
{"data":{"values":[{}]},"mark":{"type":"rule","color":"#999999","strokeWidth":1.3},"encoding":{"x":{"datum":0,"type":"quantitative","scale":{"domain":[-9.5,7.4]},"axis":{"values":[-5,0,5],"title":null}}}},
{"data":{"name":"strips"},"transform":[{"filter":"datum.c=='Sl'"}],"mark":{"type":"tick","thickness":8,"size":54,"cornerRadius":4,"clip":true,"opacity":1},"encoding":{"x":{"field":"x","type":"quantitative","scale":{"domain":[-9.5,7.4]},"axis":{"values":[-5,0,5],"title":null}},"y":{"field":"r","type":"nominal","scale":{"domain":["M","S","D","E","P","El","Sl"],"paddingInner":0,"paddingOuter":0.5},"axis":{"title":null,"bandPosition":0.5,"labels":false}},"color":{"field":"v","type":"quantitative","scale":{"domain":[0,0.5,1],"range":["#008bfb","#8a3cc6","#ff0052"]},"legend":null}}},
{"data":{"name":"pts"},"transform":[{"filter":"datum.c=='Sl'"}],"mark":{"type":"circle","size":50,"opacity":1,"clip":true},"encoding":{"x":{"field":"x","type":"quantitative","scale":{"domain":[-9.5,7.4]},"axis":{"values":[-5,0,5],"title":null}},"y":{"field":"r","type":"nominal","scale":{"domain":["M","S","D","E","P","El","Sl"],"paddingInner":0,"paddingOuter":0.5}},"yOffset":{"field":"o","type":"quantitative","scale":{"domain":[-10,10]}},"color":{"field":"v","type":"quantitative","scale":{"domain":[0,0.5,1],"range":["#008bfb","#8a3cc6","#ff0052"]},"legend":null}}}
]}
],
"config":{
"view":{"fill":"#E5E5E5","stroke":null},
"font":"DejaVu Sans",
"axis":{"domain":false,"grid":true,"gridColor":"#FFFFFF","gridWidth":1.3,"gridOpacity":1,"labelFont":"DejaVu Sans","titleFont":"DejaVu Sans"},
"axisX":{"tickSize":4,"tickColor":"#555555","tickWidth":1,"labelFontSize":12.7,"labelColor":"#555555","labelPadding":3,"titleFontSize":16.5,"titleColor":"#555555","titleFontWeight":"normal","titlePadding":3},
"axisY":{"ticks":false,"labelFontSize":16.8,"labelColor":"#555555","labelPadding":31},
"title":{"font":"DejaVu Sans","fontSize":18.3,"fontWeight":"normal","color":"#1a1a1a","anchor":"middle","offset":3}
}
}
